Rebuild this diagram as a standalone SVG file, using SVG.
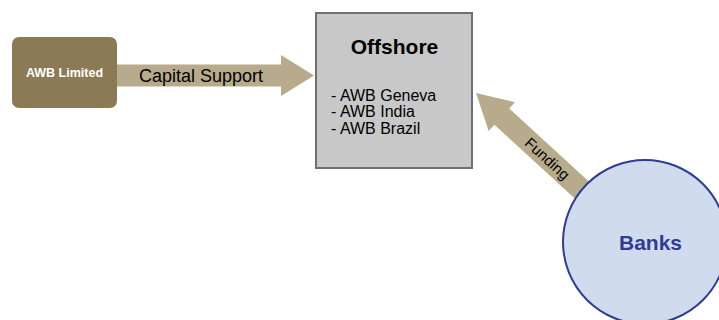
<svg xmlns="http://www.w3.org/2000/svg" width="719" height="320" viewBox="0 0 719 320">
<style>
text{font-family:"Liberation Sans",Arial,sans-serif;}
.arrow{fill:#b8ab8c;}
.lbl{font-size:18px;fill:#000;}
.item{font-size:16px;}
</style>
<rect width="719" height="320" fill="#ffffff"/>
<g id="connectors">
  <g id="capital-support">
    <polygon class="arrow" points="117,64.5 281,64.5 281,55 314,75.5 281,96 281,86.5 117,86.5"/>
    <text class="lbl" x="201" y="81.5" text-anchor="middle">Capital Support</text>
  </g>
  <g id="funding" transform="translate(476,93) rotate(42.5)">
    <polygon class="arrow" points="0,0 35,-19.5 35,-11 170,-11 170,11 35,11 35,19.5"/>
    <text x="97" y="5.5" font-size="15" text-anchor="middle">Funding</text>
  </g>
</g>
<g id="awb-limited">
  <rect x="12" y="37" width="105" height="71" rx="7" fill="#8a7a55"/>
  <text x="64.5" y="76.5" font-size="12.5" font-weight="bold" fill="#ffffff" text-anchor="middle">AWB Limited</text>
</g>
<g id="offshore">
  <rect x="316" y="13" width="156" height="155" fill="#c8c8c8" stroke="#707070" stroke-width="2"/>
  <text x="394.5" y="53.5" font-size="21" font-weight="bold" text-anchor="middle">Offshore</text>
  <text class="item" x="331" y="100.5">- AWB Geneva</text>
  <text class="item" x="331" y="117">- AWB India</text>
  <text class="item" x="331" y="133.5">- AWB Brazil</text>
</g>
<g id="banks">
  <circle cx="645" cy="242" r="82" fill="#d0dcee" stroke="#303c94" stroke-width="2"/>
  <text x="650.5" y="249.5" font-size="21" font-weight="bold" fill="#303c94" text-anchor="middle">Banks</text>
</g>
</svg>
